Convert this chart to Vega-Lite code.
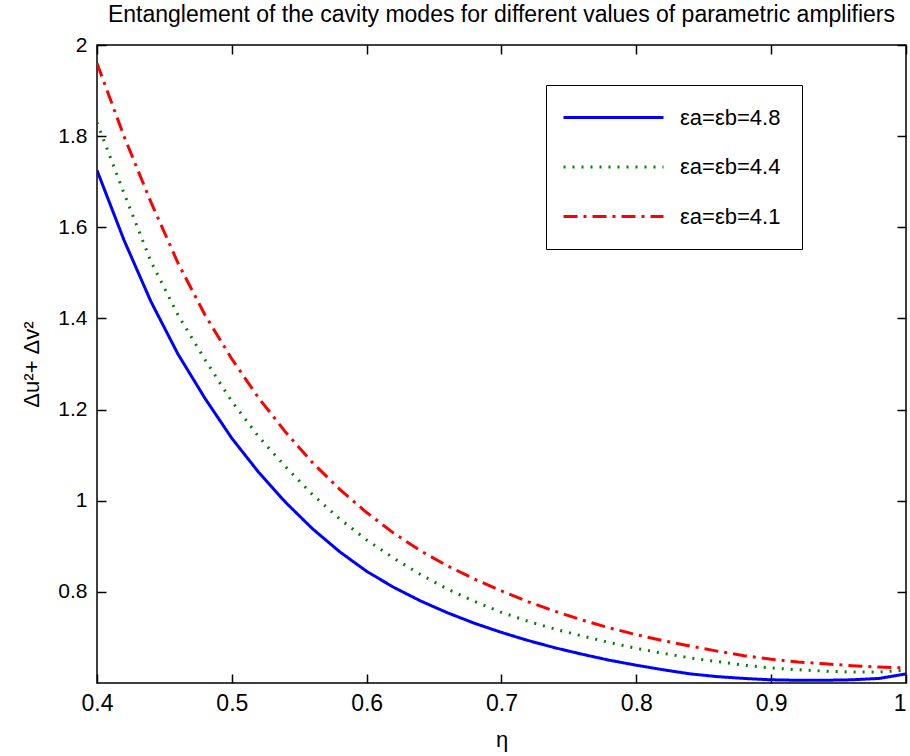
{
  "$schema": "https://vega.github.io/schema/vega-lite/v6.json",
  "autosize": "none",
  "width": 809,
  "height": 638,
  "padding": {"left": 97, "top": 45, "right": 4, "bottom": 73},
  "background": "white",
  "title": {"text": "Entanglement of the cavity modes for different values of parametric amplifiers", "fontSize": 23, "font": "Liberation Sans", "fontWeight": "normal", "color": "black", "anchor": "middle", "offset": 7},
  "config": {
    "view": {"stroke": "black", "strokeWidth": 1.5},
    "axis": {"grid": false, "domain": false, "tickColor": "black", "tickWidth": 1.5, "tickSize": -9, "labelFont": "Liberation Sans", "labelColor": "black", "labelFlush": false, "titleFont": "Liberation Sans", "titleFontWeight": "normal", "titleColor": "black", "titleFontSize": 22},
    "legend": {"labelFont": "Liberation Sans"}
  },
  "data": {"values": [
    {"eta":0.40,"v":1.725,"s":"εa=εb=4.8"},{"eta":0.42,"v":1.572,"s":"εa=εb=4.8"},{"eta":0.44,"v":1.437,"s":"εa=εb=4.8"},{"eta":0.46,"v":1.322,"s":"εa=εb=4.8"},{"eta":0.48,"v":1.225,"s":"εa=εb=4.8"},{"eta":0.50,"v":1.137,"s":"εa=εb=4.8"},{"eta":0.52,"v":1.062,"s":"εa=εb=4.8"},{"eta":0.54,"v":0.996,"s":"εa=εb=4.8"},{"eta":0.56,"v":0.938,"s":"εa=εb=4.8"},{"eta":0.58,"v":0.888,"s":"εa=εb=4.8"},{"eta":0.60,"v":0.845,"s":"εa=εb=4.8"},{"eta":0.62,"v":0.810,"s":"εa=εb=4.8"},{"eta":0.64,"v":0.780,"s":"εa=εb=4.8"},{"eta":0.66,"v":0.754,"s":"εa=εb=4.8"},{"eta":0.68,"v":0.731,"s":"εa=εb=4.8"},{"eta":0.70,"v":0.711,"s":"εa=εb=4.8"},{"eta":0.72,"v":0.693,"s":"εa=εb=4.8"},{"eta":0.74,"v":0.677,"s":"εa=εb=4.8"},{"eta":0.76,"v":0.663,"s":"εa=εb=4.8"},{"eta":0.78,"v":0.650,"s":"εa=εb=4.8"},{"eta":0.80,"v":0.639,"s":"εa=εb=4.8"},{"eta":0.82,"v":0.629,"s":"εa=εb=4.8"},{"eta":0.84,"v":0.620,"s":"εa=εb=4.8"},{"eta":0.86,"v":0.614,"s":"εa=εb=4.8"},{"eta":0.88,"v":0.610,"s":"εa=εb=4.8"},{"eta":0.90,"v":0.607,"s":"εa=εb=4.8"},{"eta":0.92,"v":0.606,"s":"εa=εb=4.8"},{"eta":0.94,"v":0.606,"s":"εa=εb=4.8"},{"eta":0.96,"v":0.607,"s":"εa=εb=4.8"},{"eta":0.98,"v":0.610,"s":"εa=εb=4.8"},{"eta":1.00,"v":0.620,"s":"εa=εb=4.8"},
    {"eta":0.40,"v":1.830,"s":"εa=εb=4.4"},{"eta":0.42,"v":1.675,"s":"εa=εb=4.4"},{"eta":0.44,"v":1.525,"s":"εa=εb=4.4"},{"eta":0.46,"v":1.408,"s":"εa=εb=4.4"},{"eta":0.48,"v":1.310,"s":"εa=εb=4.4"},{"eta":0.50,"v":1.218,"s":"εa=εb=4.4"},{"eta":0.52,"v":1.140,"s":"εa=εb=4.4"},{"eta":0.54,"v":1.074,"s":"εa=εb=4.4"},{"eta":0.56,"v":1.013,"s":"εa=εb=4.4"},{"eta":0.58,"v":0.960,"s":"εa=εb=4.4"},{"eta":0.60,"v":0.914,"s":"εa=εb=4.4"},{"eta":0.62,"v":0.874,"s":"εa=εb=4.4"},{"eta":0.64,"v":0.838,"s":"εa=εb=4.4"},{"eta":0.66,"v":0.806,"s":"εa=εb=4.4"},{"eta":0.68,"v":0.779,"s":"εa=εb=4.4"},{"eta":0.70,"v":0.755,"s":"εa=εb=4.4"},{"eta":0.72,"v":0.735,"s":"εa=εb=4.4"},{"eta":0.74,"v":0.718,"s":"εa=εb=4.4"},{"eta":0.76,"v":0.703,"s":"εa=εb=4.4"},{"eta":0.78,"v":0.689,"s":"εa=εb=4.4"},{"eta":0.80,"v":0.676,"s":"εa=εb=4.4"},{"eta":0.82,"v":0.665,"s":"εa=εb=4.4"},{"eta":0.84,"v":0.655,"s":"εa=εb=4.4"},{"eta":0.86,"v":0.647,"s":"εa=εb=4.4"},{"eta":0.88,"v":0.639,"s":"εa=εb=4.4"},{"eta":0.90,"v":0.633,"s":"εa=εb=4.4"},{"eta":0.92,"v":0.629,"s":"εa=εb=4.4"},{"eta":0.94,"v":0.626,"s":"εa=εb=4.4"},{"eta":0.96,"v":0.624,"s":"εa=εb=4.4"},{"eta":0.98,"v":0.624,"s":"εa=εb=4.4"},{"eta":1.00,"v":0.628,"s":"εa=εb=4.4"},
    {"eta":0.40,"v":1.960,"s":"εa=εb=4.1"},{"eta":0.42,"v":1.800,"s":"εa=εb=4.1"},{"eta":0.44,"v":1.655,"s":"εa=εb=4.1"},{"eta":0.46,"v":1.522,"s":"εa=εb=4.1"},{"eta":0.48,"v":1.408,"s":"εa=εb=4.1"},{"eta":0.50,"v":1.311,"s":"εa=εb=4.1"},{"eta":0.52,"v":1.225,"s":"εa=εb=4.1"},{"eta":0.54,"v":1.150,"s":"εa=εb=4.1"},{"eta":0.56,"v":1.083,"s":"εa=εb=4.1"},{"eta":0.58,"v":1.025,"s":"εa=εb=4.1"},{"eta":0.60,"v":0.974,"s":"εa=εb=4.1"},{"eta":0.62,"v":0.929,"s":"εa=εb=4.1"},{"eta":0.64,"v":0.890,"s":"εa=εb=4.1"},{"eta":0.66,"v":0.857,"s":"εa=εb=4.1"},{"eta":0.68,"v":0.828,"s":"εa=εb=4.1"},{"eta":0.70,"v":0.802,"s":"εa=εb=4.1"},{"eta":0.72,"v":0.778,"s":"εa=εb=4.1"},{"eta":0.74,"v":0.757,"s":"εa=εb=4.1"},{"eta":0.76,"v":0.738,"s":"εa=εb=4.1"},{"eta":0.78,"v":0.721,"s":"εa=εb=4.1"},{"eta":0.80,"v":0.706,"s":"εa=εb=4.1"},{"eta":0.82,"v":0.693,"s":"εa=εb=4.1"},{"eta":0.84,"v":0.681,"s":"εa=εb=4.1"},{"eta":0.86,"v":0.670,"s":"εa=εb=4.1"},{"eta":0.88,"v":0.660,"s":"εa=εb=4.1"},{"eta":0.90,"v":0.652,"s":"εa=εb=4.1"},{"eta":0.92,"v":0.646,"s":"εa=εb=4.1"},{"eta":0.94,"v":0.642,"s":"εa=εb=4.1"},{"eta":0.96,"v":0.638,"s":"εa=εb=4.1"},{"eta":0.98,"v":0.635,"s":"εa=εb=4.1"},{"eta":1.00,"v":0.633,"s":"εa=εb=4.1"}
  ]},
  "layer": [
    {
      "mark": {"type": "line", "strokeWidth": 3, "clip": true},
      "encoding": {
        "x": {"field": "eta", "type": "quantitative", "scale": {"domain": [0.4, 1], "nice": false, "zero": false},
              "axis": {"orient": "bottom", "values": [0.4,0.5,0.6,0.7,0.8,0.9,1], "format": "~g", "labelFontSize": 23, "labelPadding": 18, "labelAlign": {"condition": {"test": "datum.value >= 1", "value": "right"}, "value": "center"}, "title": "η", "titlePadding": 14}},
        "y": {"field": "v", "type": "quantitative", "scale": {"domain": [0.6, 2], "nice": false, "zero": false},
              "axis": {"orient": "left", "values": [0.8,1,1.2,1.4,1.6,1.8,2], "format": "~g", "labelFontSize": 21, "labelPadding": 19, "title": "Δu²+ Δv²", "titlePadding": 14}},
        "color": {"field": "s", "type": "nominal",
                  "scale": {"domain": ["εa=εb=4.8","εa=εb=4.4","εa=εb=4.1"], "range": ["#0000ff","#008000","#ff0000"]},
                  "legend": {"title": null, "orient": "none", "legendX": 449, "legendY": 40, "symbolType": "M-5,0H5", "symbolSize": 400, "symbolOffset": 35, "symbolStrokeWidth": 3, "labelFontSize": 22, "labelColor": "black", "strokeColor": "black", "fillColor": "white", "padding": 21, "rowPadding": 26.5, "labelOffset": 55}},
        "strokeDash": {"field": "s", "type": "nominal",
                  "scale": {"domain": ["εa=εb=4.8","εa=εb=4.4","εa=εb=4.1"], "range": [[1,0],[2,7],[14,6,3,6]]},
                  "legend": null}
      }
    },
    {
      "mark": {"type": "line", "opacity": 0},
      "encoding": {
        "x": {"field": "eta", "type": "quantitative", "scale": {"domain": [0.4, 1], "nice": false, "zero": false},
              "axis": {"orient": "top", "values": [0.4,0.5,0.6,0.7,0.8,0.9,1], "labels": false, "title": null}},
        "y": {"field": "v", "type": "quantitative", "scale": {"domain": [0.6, 2], "nice": false, "zero": false},
              "axis": {"orient": "right", "values": [0.8,1,1.2,1.4,1.6,1.8,2], "labels": false, "title": null}},
        "detail": {"field": "s"}
      }
    }
  ],
  "resolve": {"axis": {"x": "independent", "y": "independent"}}
}
